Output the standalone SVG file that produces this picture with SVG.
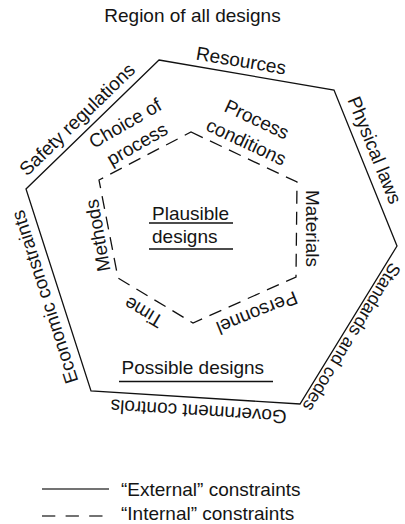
<svg xmlns="http://www.w3.org/2000/svg" width="405" height="524" viewBox="0 0 405 524">
<style>
text{font-family:"Liberation Sans",Arial,Helvetica,sans-serif;font-size:19px;fill:#141414}
.m{text-anchor:middle}
.ext{fill:none;stroke:#111;stroke-width:1.3}
.int{fill:none;stroke:#111;stroke-width:1.3;stroke-dasharray:13 8}
.ul{stroke:#111;stroke-width:1.4}
</style>
<rect width="405" height="524" fill="#fff"/>
<g id="title"><text class="m" x="192.5" y="22">Region of all designs</text></g>
<g id="connectors">
<polygon id="outer" class="ext" points="159,60 334,90 397,246 300,404 91,391 26,189"/>
<polygon id="inner" class="int" points="191,132 297,182 296,277 193,323 118,278 99,180"/>
</g>
<g id="external-labels">
<text class="m" transform="translate(240,67) rotate(9.5)">Resources</text>
<text class="m" transform="translate(81.7,124) rotate(-44)">Safety regulations</text>
<text class="m" transform="translate(368.7,152.5) rotate(68)">Physical laws</text>
<text class="m" style="font-size:18px" transform="translate(346.5,334) rotate(121.5)">Standards and codes</text>
<text class="m" transform="translate(199,405) rotate(183.56)">Government controls</text>
<text class="m" transform="translate(51,295) rotate(-107.8)">Economic constraints</text>
</g>
<g id="internal-labels">
<g transform="translate(128.4,128.9) rotate(-30)"><text class="m" x="0" y="0">Choice of</text><text class="m" x="0" y="24">process</text></g>
<g transform="translate(254.1,125.2) rotate(25)"><text class="m" x="0" y="0">Process</text><text class="m" x="0" y="25">conditions</text></g>
<text class="m" transform="translate(104.2,234.3) rotate(-100)">Methods</text>
<text class="m" transform="translate(305.7,228.5) rotate(90)">Materials</text>
<text class="m" transform="translate(147,306.7) rotate(-149)">Time</text>
<text class="m" transform="translate(254.5,306.7) rotate(158)">Personnel</text>
</g>
<g id="plausible">
<text x="152" y="220">Plausible</text>
<line class="ul" x1="149" y1="223" x2="233" y2="223"/>
<text x="152" y="243">designs</text>
<line class="ul" x1="149" y1="249" x2="233" y2="249"/>
</g>
<g id="possible">
<text x="121.5" y="374">Possible designs</text>
<line class="ul" x1="119" y1="381.5" x2="273" y2="381.5"/>
</g>
<g id="legend">
<line x1="42" y1="489" x2="109" y2="489" stroke="#444" stroke-width="1.6"/>
<text x="121" y="496">“External” constraints</text>
<line x1="42" y1="516" x2="103" y2="516" stroke="#444" stroke-width="1.6" stroke-dasharray="13.3 10.3"/>
<text x="121" y="519.5">“Internal” constraints</text>
</g>
</svg>
